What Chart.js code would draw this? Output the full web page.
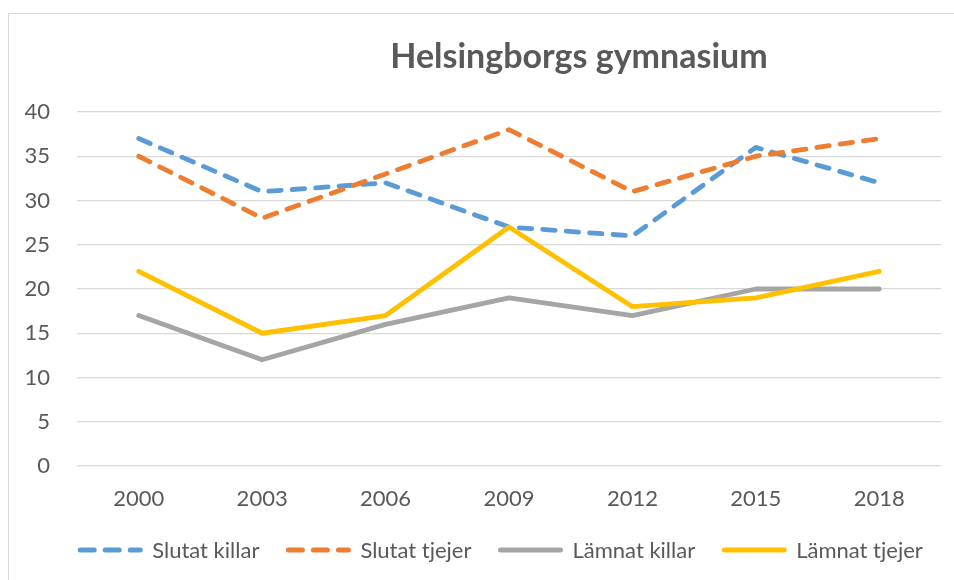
<!DOCTYPE html>
<html lang="sv">
<head>
<meta charset="utf-8">
<title>Helsingborgs gymnasium</title>
<script src="https://cdn.jsdelivr.net/npm/chart.js@4/dist/chart.umd.min.js"></script>
<style>
  html, body { margin: 0; padding: 0; background: #fff; }
  #wrap { width: 954px; height: 580px; position: relative; }
</style>
</head>
<body>
<div id="wrap"><canvas id="gymChart" width="954" height="580"></canvas></div>
<script>
// ============================================================
// DATA
// ============================================================
const years = ['2000', '2003', '2006', '2009', '2012', '2015', '2018'];

const slutatKillar  = [37, 31, 32, 27, 26, 36, 32];
const slutatTjejer  = [35, 28, 33, 38, 31, 35, 37];
const lamnatKillar  = [17, 12, 16, 19, 17, 20, 20];
const lamnatTjejer  = [22, 15, 17, 27, 18, 19, 22];

const seriesNames = ['Slutat killar', 'Slutat tjejer', 'Lämnat killar', 'Lämnat tjejer'];
const yTicks = [0, 5, 10, 15, 20, 25, 30, 35, 40];

const FONT = 'Lato, "Open Sans", sans-serif';
const TEXT = '#595959';
const DASH = [12.5, 11];

// ============================================================
// Excel-style frame, title and bottom legend
// ============================================================
const frameTitleLegend = {
  id: 'frameTitleLegend',
  beforeDraw(chart) {
    const c = chart.ctx;
    c.save();
    c.fillStyle = '#fff';
    c.fillRect(0, 0, chart.width, chart.height);
    c.strokeStyle = '#d9d9d9';
    c.lineWidth = 1;
    c.strokeRect(8.5, 13.5, 2000, 2000);
    c.restore();
  },
  afterDraw(chart) {
    const c = chart.ctx;
    c.save();

    // title
    c.font = 'bold 34px ' + FONT;
    c.fillStyle = TEXT;
    c.textAlign = 'center';
    c.textBaseline = 'alphabetic';
    c.fillText('Helsingborgs gymnasium', 579, 68);

    // legend — samples keep the dataset's own dash pattern
    const sampleW = 66, textGap = 9, itemGap = 26, y = 550;
    c.font = '22px ' + FONT;
    const items = chart.data.datasets.map(ds => ({
      ds, w: sampleW + textGap + c.measureText(ds.label).width
    }));
    const total = items.reduce((s, it) => s + it.w, 0) + itemGap * (items.length - 1);
    let x = 500 - total / 2;
    items.forEach(({ ds, w }) => {
      c.strokeStyle = ds.borderColor;
      c.lineWidth = 5;
      c.lineCap = 'round';
      c.setLineDash(ds.borderDash.length ? [14, 11] : []);
      c.beginPath();
      c.moveTo(x + 3, y);
      c.lineTo(x + sampleW - 3, y);
      c.stroke();
      c.setLineDash([]);
      c.fillStyle = TEXT;
      c.textAlign = 'left';
      c.textBaseline = 'middle';
      c.fillText(ds.label, x + sampleW + textGap, y + 1);
      x += w + itemGap;
    });
    c.restore();
  }
};

function lineSet(label, data, color, dashed, order) {
  return {
    label,
    data,
    borderColor: color,
    backgroundColor: color,
    borderWidth: 4.8,
    borderDash: dashed ? DASH : [],
    borderCapStyle: 'round',
    borderJoinStyle: 'round',
    pointRadius: 0,
    pointHoverRadius: 0,
    tension: 0,
    fill: false,
    order  // yellow drawn on top, like the original
  };
}

const ctx = document.getElementById('gymChart').getContext('2d');
new Chart(ctx, {
  type: 'line',
  data: {
    labels: years,
    datasets: [
      lineSet(seriesNames[0], slutatKillar, '#5b9bd5', true, 4),
      lineSet(seriesNames[1], slutatTjejer, '#ed7d31', true, 3),
      lineSet(seriesNames[2], lamnatKillar, '#a5a5a5', false, 2),
      lineSet(seriesNames[3], lamnatTjejer, '#ffc000', false, 1),
    ]
  },
  options: {
    responsive: false,
    animation: false,
    layout: { padding: { top: 112, right: 13, bottom: 54, left: 0 } },
    plugins: {
      title: { display: false },
      legend: { display: false },
      tooltip: { enabled: false }
    },
    scales: {
      x: {
        offset: true,
        grid: { display: false },
        border: { display: false },
        ticks: { color: TEXT, font: { family: FONT, size: 22 }, padding: 12, maxRotation: 0 },
        afterFit: s => { s.height = 60; }
      },
      y: {
        min: 0,
        max: 40,
        afterBuildTicks: s => { s.ticks = yTicks.map(v => ({ value: v })); },
        grid: { color: '#d9d9d9', lineWidth: 1.3, drawTicks: false },
        border: { display: false },
        ticks: { color: TEXT, font: { family: FONT, size: 22 }, padding: 27 },
        afterFit: s => { s.width = 77; }
      }
    }
  },
  plugins: [frameTitleLegend]
});
</script>
</body>
</html>
